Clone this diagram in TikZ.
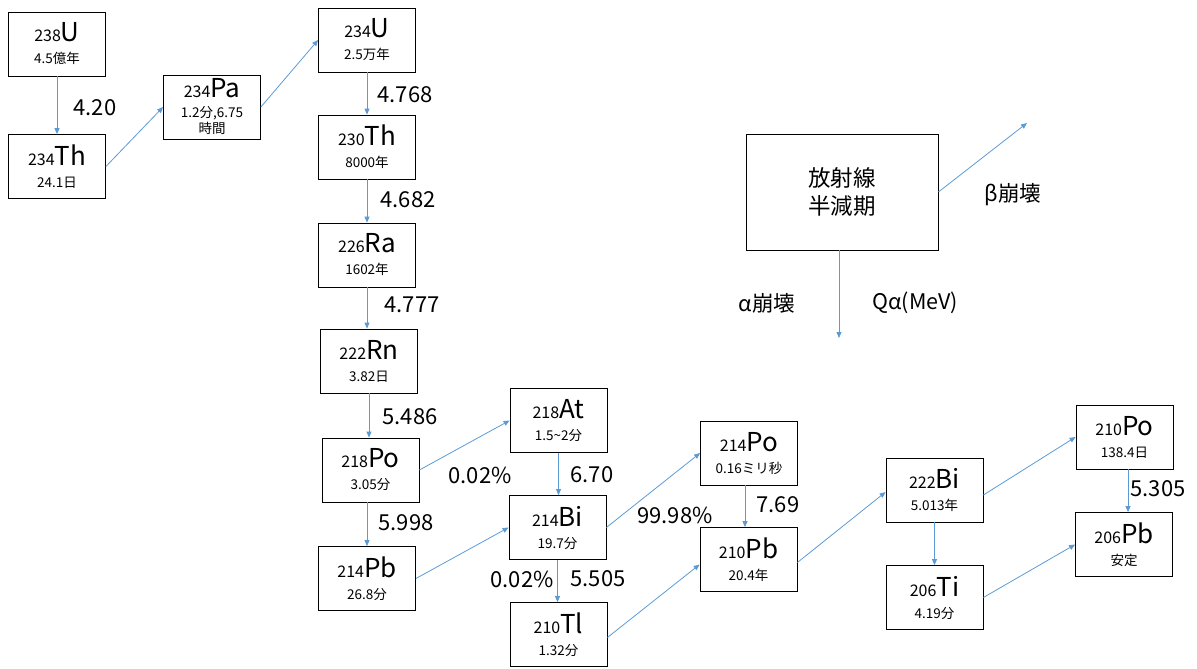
\documentclass[tikz,border=0pt]{standalone}
\usepackage{fontspec}
\setmainfont{Noto Sans CJK JP}
\usetikzlibrary{arrows.meta}
\definecolor{arrowblue}{HTML}{5B9BD5}
\newcommand{\isoname}[3]{{\fontsize{16}{16}\selectfont #1}{\fontsize{26}{26}\selectfont #2}\\#3}
\tikzset{
  isobox/.style={draw=black, line width=0.8pt, minimum width=97pt, minimum height=64pt, inner sep=0pt, align=center, fill=white, font=\fontsize{13.5}{22}\selectfont},
  decay/.style={draw=arrowblue, line width=0.8pt, -{Triangle[length=6pt,width=5pt]}},
  qlabel/.style={font=\fontsize{22}{22}\selectfont, inner sep=0pt},
  legtext/.style={font=\fontsize{21.5}{21.5}\selectfont, inner sep=0pt}
}
\begin{document}
\begin{tikzpicture}[x=1pt,y=-1pt]
\useasboundingbox (0,0) rectangle (1197,669);
% boxes
\node[isobox] (U238)  at (57,44)     {\isoname{238}{U}{4.5億年}};
\node[isobox] (Th234) at (57,166.5)  {\isoname{234}{Th}{24.1日}};
\node[isobox, font=\fontsize{13.5}{16}\selectfont] (Pa234) at (212,107)   {{\fontsize{16}{16}\selectfont 234}{\fontsize{26}{26}\selectfont Pa}\\[4pt]1.2分,6.75\\時間};
\node[isobox] (U234)  at (367,40)    {\isoname{234}{U}{2.5万年}};
\node[isobox] (Th230) at (367,147)   {\isoname{230}{Th}{8000年}};
\node[isobox] (Ra226) at (367,255)   {\isoname{226}{Ra}{1602年}};
\node[isobox] (Rn222) at (369,361)   {\isoname{222}{Rn}{3.82日}};
\node[isobox] (Po218) at (370.5,470) {\isoname{218}{Po}{3.05分}};
\node[isobox] (Pb214) at (367,578.5) {\isoname{214}{Pb}{26.8分}};
\node[isobox] (At218) at (558.5,420.5) {\isoname{218}{At}{1.5\textasciitilde 2分}};
\node[isobox] (Bi214) at (557.5,527.5) {\isoname{214}{Bi}{19.7分}};
\node[isobox] (Tl210) at (558.5,634.5) {\isoname{210}{Tl}{1.32分}};
\node[isobox] (Po214) at (749,453)   {\isoname{214}{Po}{0.16ミリ秒}};
\node[isobox] (Pb210) at (748.5,559.5) {\isoname{210}{Pb}{20.4年}};
\node[isobox] (Bi222) at (934.5,490) {\isoname{222}{Bi}{5.013年}};
\node[isobox] (Ti206) at (934.5,597.5) {\isoname{206}{Ti}{4.19分}};
\node[isobox] (Po210) at (1124.5,437) {\isoname{210}{Po}{138.4日}};
\node[isobox] (Pb206) at (1124,544.5) {\isoname{206}{Pb}{安定}};
% legend
\node[isobox, minimum width=192pt, minimum height=116pt, font=\fontsize{22.5}{28}\selectfont] (leg) at (842,192) {放射線\\半減期};
\coordinate (betaend) at (1027,123);
\coordinate (alphaend) at (839,338);
\draw[decay] (leg.east) -- (betaend);
\draw[decay] (leg.south -| alphaend) -- (alphaend);
\node[legtext] (betalab) at (1013,195) {β崩壊};
\node[legtext] (alphalab) at (767,303) {α崩壊};
\node[legtext] (qlab) at (915,303) {Qα(MeV)};
% vertical decays
\draw[decay] (U238) -- (Th234);
\draw[decay] (U234) -- (Th230);
\draw[decay] (Th230) -- (Ra226);
\draw[decay] (Ra226) -- (Ra226 |- Rn222.north);
\draw[decay] (Rn222) -- (Rn222 |- Po218.north);
\draw[decay] (Po218.south -| Pb214.north) -- (Pb214);
\draw[decay] (At218) -- (At218 |- Bi214.north);
\draw[decay] (Bi214) -- (Bi214 |- Tl210.north);
\draw[decay] ([xshift=-4pt]Po214.south) -- ([xshift=-3.5pt]Pb210.north);
\draw[decay] (Bi222) -- (Ti206);
\draw[decay] ([xshift=3.5pt]Po210.south) -- ([xshift=4pt]Pb206.north);
% diagonal decays
\draw[decay] (Th234.east) -- (Pa234.west);
\draw[decay] (Pa234.east) -- (U234.west);
\draw[decay] (Po218.east) -- (At218.west);
\draw[decay] (Pb214.east) -- (Bi214.west);
\draw[decay] (Bi214.east) -- (Po214.west);
\draw[decay] ([yshift=-3pt]Tl210.east) -- ([yshift=-5pt]Pb210.west);
\draw[decay] ([yshift=-3pt]Pb210.east) -- ([yshift=-2pt]Bi222.west);
\draw[decay] ([yshift=-5pt]Bi222.east) -- (Po210.west);
\draw[decay] (Ti206.east) -- (Pb206.west);
% Q values
\node[qlabel] (q1) at (95,108) {4.20};
\node[qlabel] (q2) at (405,95) {4.768};
\node[qlabel] (q3) at (408,200) {4.682};
\node[qlabel] (q4) at (412,305) {4.777};
\node[qlabel] (q5) at (410,417) {5.486};
\node[qlabel] (q6) at (406,523) {5.998};
\node[qlabel] (q7) at (480,475) {0.02\%};
\node[qlabel] (q8) at (592,475) {6.70};
\node[qlabel] (q9) at (522,579) {0.02\%};
\node[qlabel] (q10) at (598,579) {5.505};
\node[qlabel] (q11) at (675,515) {99.98\%};
\node[qlabel] (q12) at (778,505) {7.69};
\node[qlabel] (q13) at (1158,489) {5.305};
\end{tikzpicture}
\end{document}
